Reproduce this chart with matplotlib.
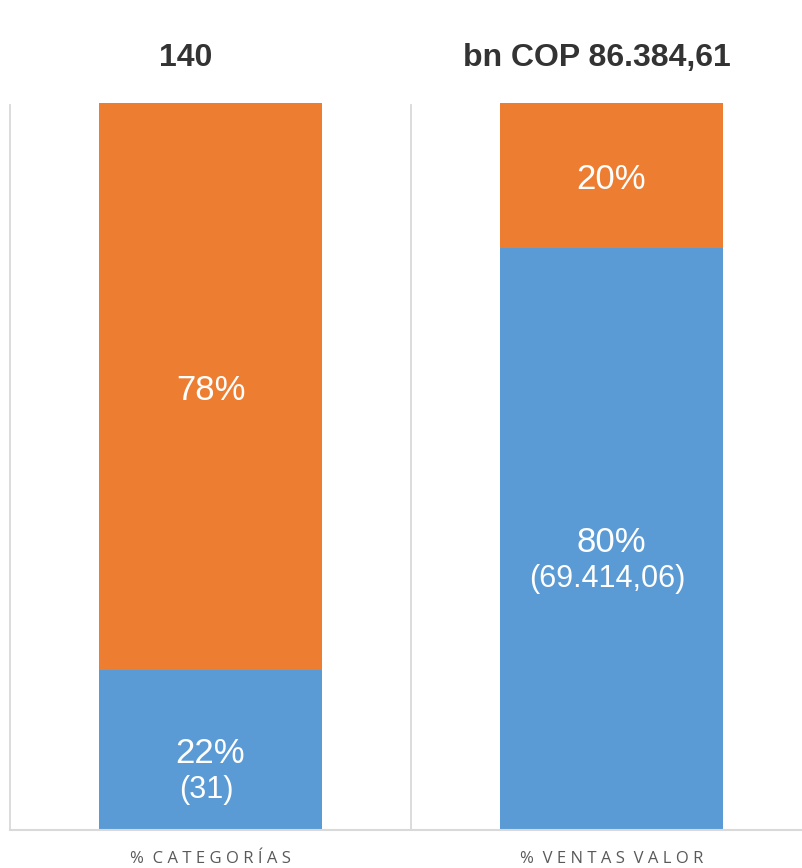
"""
Stacked 100% bars: share of categories vs share of sales value.
"""
import matplotlib
matplotlib.use("Agg")
import matplotlib.pyplot as plt
import matplotlib.transforms as mtransforms

# data
categories = ["% CATEGORÍAS", "% VENTAS VALOR"]
headers = ["140", "bn COP 86.384,61"]
blue_share = [22, 80]
orange_share = [78, 20]
blue_extra = ["(31)", "(69.414,06)"]

BLUE = "#5B9BD5"
ORANGE = "#ED7D31"
GRID = "#D9D9D9"

plt.rcParams['font.family'] = ['Liberation Sans', 'DejaVu Sans']

fig = plt.figure(figsize=(8.02, 8.68), dpi=100)
# axes spans two category slots of 401px; the right edge runs past the figure
ax = fig.add_axes([10 / 802, 38 / 868, 802 / 802, 727 / 868])

x = list(range(len(categories)))
width = 0.554
ax.bar(x, blue_share, width=width, color=BLUE, zorder=2)
ax.bar(x, orange_share, width=width, bottom=blue_share, color=ORANGE, zorder=2)

ax.set_xlim(-0.5, 1.5)
ax.set_ylim(0, 100)

# category separators
for sep in [-0.5, 0.5, 1.5]:
    ax.plot([sep, sep], [0, 99.7], color=GRID, lw=1.3, zorder=1, clip_on=False)

for s in ["top", "right", "left"]:
    ax.spines[s].set_visible(False)
ax.spines["bottom"].set_color(GRID)
ax.spines["bottom"].set_linewidth(1.5)
ax.set_yticks([])
ax.set_xticks(x)
# spaced-out capitals
ax.set_xticklabels([" ".join(c).replace("   ", "  ") for c in categories],
                   fontsize=12, color="#595959",
                   family=['Open Sans', 'DejaVu Sans'])
ax.tick_params(axis="x", length=0, pad=15)

# offsets in points (1px = 0.72pt at 100 dpi)
main_off = mtransforms.ScaledTranslation(0, -13 / 100, fig.dpi_scale_trans)
sub_off = mtransforms.ScaledTranslation(-4 / 100, -48 / 100, fig.dpi_scale_trans)

# labels inside segments
for i in x:
    b = blue_share[i]
    o = orange_share[i]
    ax.text(i, b / 2, f"{b}%", ha="center", va="baseline",
            color="white", fontsize=25, transform=ax.transData + main_off)
    ax.text(i, b / 2, blue_extra[i], ha="center", va="baseline",
            color="white", fontsize=22, transform=ax.transData + sub_off)
    ax.text(i, b + o / 2, f"{o}%", ha="center", va="baseline",
            color="white", fontsize=25, transform=ax.transData + main_off)

# headers above each bar
header_x = [-0.061, 0.963]
trans = mtransforms.blended_transform_factory(ax.transData, fig.transFigure)
for hx, h in zip(header_x, headers):
    ax.text(hx, 1 - 66 / 868, h, transform=trans, ha="center", va="baseline",
            fontsize=23, fontweight="bold", color="#333333")

fig.savefig("out.png", dpi=100)
